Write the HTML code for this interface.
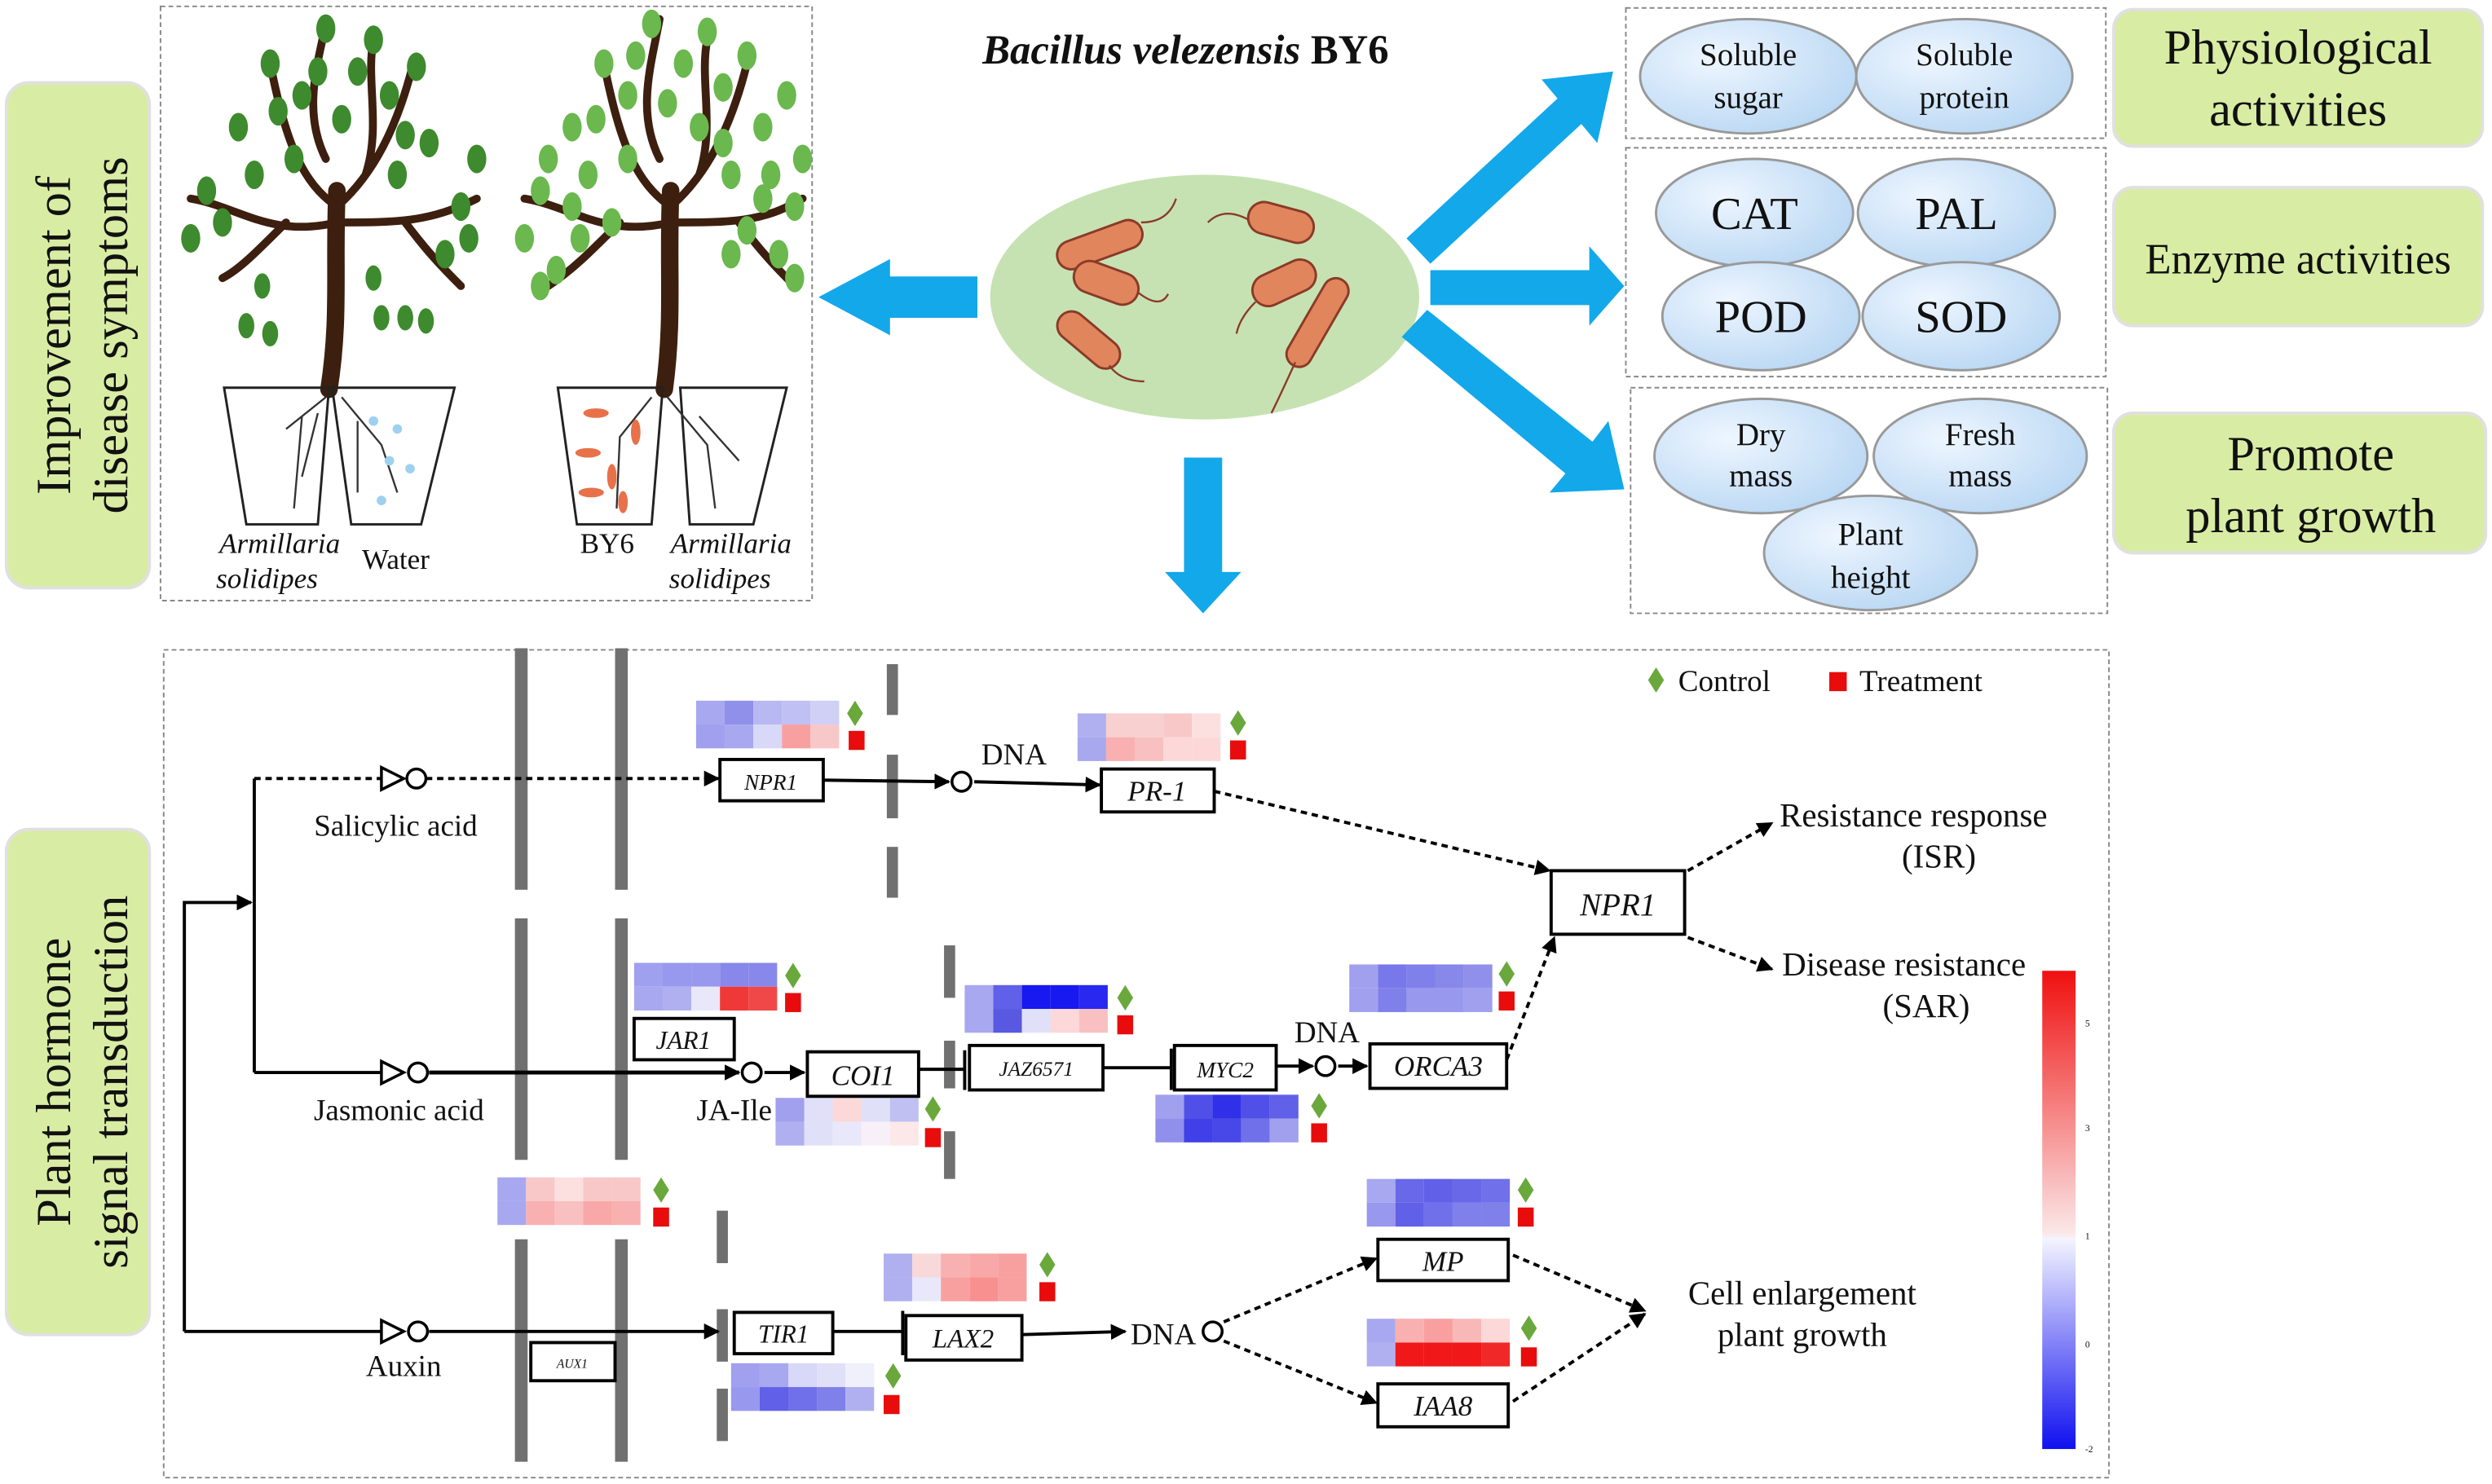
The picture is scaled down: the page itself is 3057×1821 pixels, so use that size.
<!DOCTYPE html>
<html><head><meta charset="utf-8">
<style>
html,body{margin:0;padding:0;background:#fff}
svg{display:block}
text{font-family:"Liberation Serif",serif;fill:#111}
</style></head>
<body>
<svg width="3057" height="1821" viewBox="0 0 1568 934" xmlns="http://www.w3.org/2000/svg">
<defs>
<radialGradient id="eg" cx="0.35" cy="0.35" r="0.8">
<stop offset="0" stop-color="#eef6ff"/><stop offset="1" stop-color="#b4d4f2"/></radialGradient>
<linearGradient id="cb" x1="0" y1="0" x2="0" y2="1">
<stop offset="0" stop-color="#f01010"/><stop offset="0.55" stop-color="#fbe8e8"/><stop offset="0.56" stop-color="#f4f4ff"/><stop offset="1" stop-color="#1010f0"/></linearGradient>
<marker id="ah" markerWidth="10" markerHeight="10" refX="9" refY="5" orient="auto" markerUnits="userSpaceOnUse"><path d="M0,0 L10,5 L0,10 z" fill="#000"/></marker>
<g id="dm"><path d="M0,-8 L5,0 L0,8 L-5,0z" fill="#6aa83c"/></g>
</defs>

<!-- green labels -->
<g fill="#d9eca4" stroke="#e0e0e0" stroke-width="2">
<rect x="4" y="52" width="90" height="318" rx="14"/>
<rect x="4" y="522" width="90" height="318" rx="14"/>
<rect x="1330" y="6" width="232" height="86" rx="12"/>
<rect x="1330" y="118" width="232" height="87" rx="12"/>
<rect x="1330" y="260" width="234" height="88" rx="12"/>
</g>
<text transform="translate(44,211) rotate(-90)" font-size="31" text-anchor="middle">Improvement of</text>
<text transform="translate(80,211) rotate(-90)" font-size="31" text-anchor="middle">disease symptoms</text>
<text transform="translate(44,681) rotate(-90)" font-size="31" text-anchor="middle">Plant hormone</text>
<text transform="translate(80,681) rotate(-90)" font-size="31" text-anchor="middle">signal transduction</text>
<text x="1446" y="40" font-size="31" text-anchor="middle">Physiological</text>
<text x="1446" y="79" font-size="31" text-anchor="middle">activities</text>
<text x="1446" y="172" font-size="27" text-anchor="middle">Enzyme activities</text>
<text x="1454" y="296" font-size="31" text-anchor="middle">Promote</text>
<text x="1454" y="335" font-size="31" text-anchor="middle">plant growth</text>

<!-- dashed boxes -->
<g fill="none" stroke="#888" stroke-width="1" stroke-dasharray="3,2">
<rect x="101" y="4" width="410" height="374"/>
<rect x="1023" y="5" width="302" height="82"/>
<rect x="1023" y="93" width="302" height="144"/>
<rect x="1026" y="244" width="300" height="142"/>
<rect x="103" y="409" width="1224" height="521"/>
</g>

<!-- trees -->
<g fill="none" stroke="#3d1f0f" stroke-linecap="round">
<path d="M207,245 C214,200 210,170 212,120" stroke-width="11"/>
<path d="M212,130 C190,115 180,90 170,40 M212,130 C235,110 250,80 260,40 M212,140 C170,150 150,130 120,125 M212,140 C250,140 270,140 300,125 M205,100 C190,70 200,40 205,15 M230,110 C240,80 230,50 235,25 M180,140 C160,160 150,170 140,175 M255,140 C270,160 280,170 290,180" stroke-width="5"/>
<path d="M418,245 C424,200 420,170 422,120" stroke-width="11"/>
<path d="M422,130 C400,115 390,90 380,40 M422,130 C445,110 460,80 470,40 M422,140 C380,150 360,130 330,125 M422,140 C460,140 480,140 505,125 M415,100 C400,70 410,40 415,12 M440,110 C450,80 440,50 445,25 M390,140 C370,160 360,170 345,180 M465,140 C480,160 490,170 500,180" stroke-width="5"/>
</g>
<g fill="#3e8a2e">
<ellipse cx="170" cy="40" rx="6" ry="9"/><ellipse cx="190" cy="60" rx="6" ry="9"/><ellipse cx="205" cy="18" rx="6" ry="9"/><ellipse cx="225" cy="45" rx="6" ry="9"/><ellipse cx="245" cy="60" rx="6" ry="9"/><ellipse cx="262" cy="42" rx="6" ry="9"/><ellipse cx="270" cy="90" rx="6" ry="9"/><ellipse cx="150" cy="80" rx="6" ry="9"/><ellipse cx="130" cy="120" rx="6" ry="9"/><ellipse cx="120" cy="150" rx="6" ry="9"/><ellipse cx="160" cy="110" rx="6" ry="9"/><ellipse cx="290" cy="130" rx="6" ry="9"/><ellipse cx="300" cy="100" rx="6" ry="9"/><ellipse cx="280" cy="160" rx="6" ry="9"/><ellipse cx="235" cy="25" rx="6" ry="9"/><ellipse cx="185" cy="100" rx="6" ry="9"/><ellipse cx="250" cy="110" rx="6" ry="9"/><ellipse cx="175" cy="70" rx="6" ry="9"/><ellipse cx="215" cy="75" rx="6" ry="9"/><ellipse cx="255" cy="85" rx="6" ry="9"/><ellipse cx="140" cy="140" rx="6" ry="9"/><ellipse cx="295" cy="150" rx="6" ry="9"/><ellipse cx="200" cy="45" rx="6" ry="9"/>
<ellipse cx="165" cy="180" rx="5" ry="8"/><ellipse cx="155" cy="205" rx="5" ry="8"/><ellipse cx="170" cy="210" rx="5" ry="8"/><ellipse cx="235" cy="175" rx="5" ry="8"/><ellipse cx="240" cy="200" rx="5" ry="8"/><ellipse cx="255" cy="200" rx="5" ry="8"/><ellipse cx="268" cy="202" rx="5" ry="8"/>
</g>
<g fill="#6ab84e">
<ellipse cx="380" cy="40" rx="6" ry="9"/><ellipse cx="395" cy="60" rx="6" ry="9"/><ellipse cx="410" cy="15" rx="6" ry="9"/><ellipse cx="430" cy="40" rx="6" ry="9"/><ellipse cx="455" cy="55" rx="6" ry="9"/><ellipse cx="470" cy="35" rx="6" ry="9"/><ellipse cx="480" cy="80" rx="6" ry="9"/><ellipse cx="360" cy="80" rx="6" ry="9"/><ellipse cx="340" cy="120" rx="6" ry="9"/><ellipse cx="330" cy="150" rx="6" ry="9"/><ellipse cx="350" cy="170" rx="6" ry="9"/><ellipse cx="370" cy="110" rx="6" ry="9"/><ellipse cx="500" cy="130" rx="6" ry="9"/><ellipse cx="505" cy="100" rx="6" ry="9"/><ellipse cx="490" cy="160" rx="6" ry="9"/><ellipse cx="445" cy="20" rx="6" ry="9"/><ellipse cx="395" cy="100" rx="6" ry="9"/><ellipse cx="460" cy="110" rx="6" ry="9"/><ellipse cx="385" cy="140" rx="6" ry="9"/><ellipse cx="470" cy="145" rx="6" ry="9"/><ellipse cx="440" cy="80" rx="6" ry="9"/><ellipse cx="420" cy="65" rx="6" ry="9"/><ellipse cx="365" cy="150" rx="6" ry="9"/><ellipse cx="485" cy="110" rx="6" ry="9"/><ellipse cx="400" cy="35" rx="6" ry="9"/><ellipse cx="455" cy="90" rx="6" ry="9"/><ellipse cx="375" cy="75" rx="6" ry="9"/><ellipse cx="345" cy="100" rx="6" ry="9"/><ellipse cx="495" cy="60" rx="6" ry="9"/><ellipse cx="480" cy="125" rx="6" ry="9"/><ellipse cx="340" cy="180" rx="6" ry="9"/><ellipse cx="500" cy="175" rx="6" ry="9"/><ellipse cx="360" cy="130" rx="6" ry="9"/><ellipse cx="460" cy="160" rx="6" ry="9"/>
</g>
<g fill="none" stroke="#222" stroke-width="1.5">
<path d="M141,244 L207,244 L200,330 L155,330z M209,244 L286,244 L265,330 L221,330z"/>
<path d="M351,244 L417,244 L410,330 L363,330z M428,244 L495,244 L474,330 L434,330z"/>
</g>
<g fill="none" stroke="#333" stroke-width="1.2">
<path d="M205,250 L180,270 M190,262 L185,320 M200,260 L190,300 M215,250 L240,280 L250,310 M225,265 L225,310"/>
<path d="M410,250 L390,275 L388,320 M420,250 L445,280 L450,320 M440,262 L465,290"/>
</g>
<g fill="#e8714a"><ellipse cx="375" cy="260" rx="8" ry="3"/><ellipse cx="370" cy="285" rx="8" ry="3"/><ellipse cx="385" cy="300" rx="3" ry="8"/><ellipse cx="400" cy="272" rx="3" ry="8"/><ellipse cx="372" cy="310" rx="8" ry="3"/><ellipse cx="392" cy="316" rx="3" ry="7"/></g>
<g fill="#9fd0f0"><circle cx="235" cy="265" r="3"/><circle cx="250" cy="270" r="3"/><circle cx="245" cy="290" r="3"/><circle cx="258" cy="295" r="3"/><circle cx="240" cy="315" r="3"/></g>
<text x="176" y="348" font-size="18" font-style="italic" text-anchor="middle">Armillaria</text>
<text x="168" y="370" font-size="18" font-style="italic" text-anchor="middle">solidipes</text>
<text x="249" y="358" font-size="18" text-anchor="middle">Water</text>
<text x="382" y="348" font-size="18" text-anchor="middle">BY6</text>
<text x="460" y="348" font-size="18" font-style="italic" text-anchor="middle">Armillaria</text>
<text x="453" y="370" font-size="18" font-style="italic" text-anchor="middle">solidipes</text>

<!-- title & bacteria -->
<text x="746" y="40" font-size="26" font-weight="bold" text-anchor="middle"><tspan font-style="italic">Bacillus velezensis</tspan> BY6</text>
<ellipse cx="758" cy="187" rx="135" ry="77" fill="#c6e2b2"/>
<g fill="#e0855c" stroke="#8a3a28" stroke-width="1.5">
<rect x="664" y="145" width="56" height="18" rx="9" transform="rotate(-20 692 154)"/>
<rect x="785" y="130" width="42" height="20" rx="10" transform="rotate(15 806 140)"/>
<rect x="675" y="168" width="42" height="20" rx="10" transform="rotate(20 696 178)"/>
<rect x="787" y="168" width="42" height="20" rx="10" transform="rotate(-25 808 178)"/>
<rect x="662" y="205" width="46" height="18" rx="9" transform="rotate(40 685 214)"/>
<rect x="798" y="195" width="62" height="16" rx="8" transform="rotate(-60 829 203)"/>
</g>
<g fill="none" stroke="#8a3a28" stroke-width="1.2"><path d="M718,140 Q735,140 740,125 M760,140 Q770,130 785,138 M716,184 Q730,195 735,185 M790,190 Q780,200 778,210 M698,230 Q705,240 720,240 M815,228 Q805,250 800,260"/></g>

<!-- blue arrows -->
<g fill="#12a8ea">
<path d="M615,174 L560,174 L560,163 L515,187 L560,211 L560,200 L615,200z"/>
<path d="M745,288 L769,288 L769,360 L781,360 L757,386 L733,360 L745,360z"/>
<path d="M900,170 L1000,170 L1000,155 L1022,180 L1000,205 L1000,192 L900,192z"/>
<path d="M885,150 L980,62 L970,50 L1015,45 L1005,90 L995,78 L900,166z"/>
<path d="M882,212 L985,298 L975,310 L1022,308 L1012,265 L1002,278 L898,195z"/>
</g>

<!-- ellipses -->
<g fill="url(#eg)" stroke="#999" stroke-width="1.5">
<ellipse cx="1100" cy="48" rx="68" ry="36"/><ellipse cx="1236" cy="48" rx="68" ry="36"/>
<ellipse cx="1104" cy="134" rx="62" ry="34"/><ellipse cx="1231" cy="134" rx="62" ry="34"/>
<ellipse cx="1108" cy="199" rx="62" ry="34"/><ellipse cx="1234" cy="199" rx="62" ry="34"/>
<ellipse cx="1108" cy="287" rx="67" ry="36"/><ellipse cx="1246" cy="287" rx="67" ry="36"/><ellipse cx="1177" cy="348" rx="67" ry="36"/>
</g>
<g font-size="20" text-anchor="middle">
<text x="1100" y="41">Soluble</text><text x="1100" y="68">sugar</text>
<text x="1236" y="41">Soluble</text><text x="1236" y="68">protein</text>
<text x="1108" y="280">Dry</text><text x="1108" y="306">mass</text>
<text x="1246" y="280">Fresh</text><text x="1246" y="306">mass</text>
<text x="1177" y="343">Plant</text><text x="1177" y="370">height</text>
</g>
<g font-size="29" text-anchor="middle">
<text x="1104" y="144">CAT</text><text x="1231" y="144">PAL</text>
<text x="1108" y="209">POD</text><text x="1234" y="209">SOD</text>
</g>

<!-- grey membrane bars -->
<g fill="#707070">
<rect x="324" y="408" width="8" height="152"/><rect x="324" y="578" width="8" height="152"/><rect x="324" y="780" width="8" height="140"/>
<rect x="387" y="408" width="8" height="152"/><rect x="387" y="578" width="8" height="152"/><rect x="387" y="780" width="8" height="140"/>
<rect x="558" y="418" width="7" height="32"/><rect x="558" y="475" width="7" height="40"/><rect x="558" y="533" width="7" height="32"/>
<rect x="594" y="595" width="7" height="33"/><rect x="594" y="655" width="7" height="30"/><rect x="594" y="712" width="7" height="30"/>
<rect x="451" y="762" width="7" height="33"/><rect x="451" y="824" width="7" height="33"/><rect x="451" y="874" width="7" height="33"/>
</g>

<!-- legend -->
<use href="#dm" x="1042" y="428"/><text x="1056" y="435" font-size="19">Control</text>
<rect x="1151" y="423" width="11" height="12" fill="#e80c0c"/><text x="1170" y="435" font-size="19">Treatment</text>

<!-- heatmaps -->
<g transform="translate(438,441)">
<rect x="0" y="0" width="18" height="15" fill="#a8a8f0"/><rect x="18" y="0" width="18" height="15" fill="#9090ea"/><rect x="36" y="0" width="18" height="15" fill="#b8b8f2"/><rect x="54" y="0" width="18" height="15" fill="#c0c0f4"/><rect x="72" y="0" width="18" height="15" fill="#d0d0f6"/>
<rect x="0" y="15" width="18" height="15" fill="#a0a0ee"/><rect x="18" y="15" width="18" height="15" fill="#a8a8f0"/><rect x="36" y="15" width="18" height="15" fill="#d8d8f8"/><rect x="54" y="15" width="18" height="15" fill="#f8a0a0"/><rect x="72" y="15" width="18" height="15" fill="#f8c8c8"/>
<use href="#dm" x="100" y="8"/><rect x="96" y="19" width="10" height="12" fill="#e80c0c"/></g>
<g transform="translate(678,449)">
<rect x="0" y="0" width="18" height="15" fill="#b0b0f0"/><rect x="18" y="0" width="18" height="15" fill="#f8d0d0"/><rect x="36" y="0" width="18" height="15" fill="#f8d0d0"/><rect x="54" y="0" width="18" height="15" fill="#f8c8c8"/><rect x="72" y="0" width="18" height="15" fill="#fce0e0"/>
<rect x="0" y="15" width="18" height="15" fill="#a8a8ee"/><rect x="18" y="15" width="18" height="15" fill="#f8b0b0"/><rect x="36" y="15" width="18" height="15" fill="#f8c0c0"/><rect x="54" y="15" width="18" height="15" fill="#fcd8d8"/><rect x="72" y="15" width="18" height="15" fill="#fcd8d8"/>
<use href="#dm" x="101" y="6"/><rect x="96" y="17" width="10" height="12" fill="#e80c0c"/></g>
<g transform="translate(399,606)">
<rect x="0" y="0" width="18" height="15" fill="#a0a0f0"/><rect x="18" y="0" width="18" height="15" fill="#9898ee"/><rect x="36" y="0" width="18" height="15" fill="#9898ee"/><rect x="54" y="0" width="18" height="15" fill="#8888ea"/><rect x="72" y="0" width="18" height="15" fill="#8888ea"/>
<rect x="0" y="15" width="18" height="15" fill="#a8a8f0"/><rect x="18" y="15" width="18" height="15" fill="#b0b0f0"/><rect x="36" y="15" width="18" height="15" fill="#e8e8fa"/><rect x="54" y="15" width="18" height="15" fill="#f03838"/><rect x="72" y="15" width="18" height="15" fill="#f04848"/>
<use href="#dm" x="100" y="8"/><rect x="95" y="19" width="10" height="12" fill="#e80c0c"/></g>
<g transform="translate(607,620)">
<rect x="0" y="0" width="18" height="15" fill="#a8a8f0"/><rect x="18" y="0" width="18" height="15" fill="#6060e8"/><rect x="36" y="0" width="18" height="15" fill="#1818f0"/><rect x="54" y="0" width="18" height="15" fill="#1818f0"/><rect x="72" y="0" width="18" height="15" fill="#2828f0"/>
<rect x="0" y="15" width="18" height="15" fill="#a8a8f0"/><rect x="18" y="15" width="18" height="15" fill="#5858e0"/><rect x="36" y="15" width="18" height="15" fill="#e0e0f8"/><rect x="54" y="15" width="18" height="15" fill="#fcd8d8"/><rect x="72" y="15" width="18" height="15" fill="#f8c0c0"/>
<use href="#dm" x="101" y="8"/><rect x="96" y="19" width="10" height="12" fill="#e80c0c"/></g>
<g transform="translate(488,691)">
<rect x="0" y="0" width="18" height="15" fill="#a0a0ee"/><rect x="18" y="0" width="18" height="15" fill="#e0e0f8"/><rect x="36" y="0" width="18" height="15" fill="#fcd8d8"/><rect x="54" y="0" width="18" height="15" fill="#e0e0f8"/><rect x="72" y="0" width="18" height="15" fill="#c0c0f2"/>
<rect x="0" y="15" width="18" height="15" fill="#b0b0f0"/><rect x="18" y="15" width="18" height="15" fill="#e0e0f8"/><rect x="36" y="15" width="18" height="15" fill="#e8e8fa"/><rect x="54" y="15" width="18" height="15" fill="#f8f0f8"/><rect x="72" y="15" width="18" height="15" fill="#fce8e8"/>
<use href="#dm" x="99" y="7"/><rect x="94" y="19" width="10" height="12" fill="#e80c0c"/></g>
<g transform="translate(727,689)">
<rect x="0" y="0" width="18" height="15" fill="#a0a0ee"/><rect x="18" y="0" width="18" height="15" fill="#5050e8"/><rect x="36" y="0" width="18" height="15" fill="#3030e8"/><rect x="54" y="0" width="18" height="15" fill="#5050e8"/><rect x="72" y="0" width="18" height="15" fill="#6060e8"/>
<rect x="0" y="15" width="18" height="15" fill="#9090ec"/><rect x="18" y="15" width="18" height="15" fill="#4040e8"/><rect x="36" y="15" width="18" height="15" fill="#4848e8"/><rect x="54" y="15" width="18" height="15" fill="#7070ea"/><rect x="72" y="15" width="18" height="15" fill="#a0a0ee"/>
<use href="#dm" x="103" y="7"/><rect x="98" y="18" width="10" height="12" fill="#e80c0c"/></g>
<g transform="translate(849,607)">
<rect x="0" y="0" width="18" height="15" fill="#a0a0ee"/><rect x="18" y="0" width="18" height="15" fill="#7878ea"/><rect x="36" y="0" width="18" height="15" fill="#8080ea"/><rect x="54" y="0" width="18" height="15" fill="#8888ea"/><rect x="72" y="0" width="18" height="15" fill="#9090ec"/>
<rect x="0" y="15" width="18" height="15" fill="#a0a0ee"/><rect x="18" y="15" width="18" height="15" fill="#8080ea"/><rect x="36" y="15" width="18" height="15" fill="#9898ee"/><rect x="54" y="15" width="18" height="15" fill="#9898ee"/><rect x="72" y="15" width="18" height="15" fill="#a0a0ee"/>
<use href="#dm" x="99" y="6"/><rect x="94" y="17" width="10" height="12" fill="#e80c0c"/></g>
<g transform="translate(313,741)">
<rect x="0" y="0" width="18" height="15" fill="#a8a8f0"/><rect x="18" y="0" width="18" height="15" fill="#f8c8c8"/><rect x="36" y="0" width="18" height="15" fill="#fce0e0"/><rect x="54" y="0" width="18" height="15" fill="#f8c8c8"/><rect x="72" y="0" width="18" height="15" fill="#f8c8c8"/>
<rect x="0" y="15" width="18" height="15" fill="#a8a8f0"/><rect x="18" y="15" width="18" height="15" fill="#f8b0b0"/><rect x="36" y="15" width="18" height="15" fill="#f8c0c0"/><rect x="54" y="15" width="18" height="15" fill="#f8a8a8"/><rect x="72" y="15" width="18" height="15" fill="#f8b0b0"/>
<use href="#dm" x="103" y="8"/><rect x="98" y="19" width="10" height="12" fill="#e80c0c"/></g>
<g transform="translate(556,789)">
<rect x="0" y="0" width="18" height="15" fill="#b0b0f0"/><rect x="18" y="0" width="18" height="15" fill="#f8d8d8"/><rect x="36" y="0" width="18" height="15" fill="#f8b0b0"/><rect x="54" y="0" width="18" height="15" fill="#f8a8a8"/><rect x="72" y="0" width="18" height="15" fill="#f8a0a0"/>
<rect x="0" y="15" width="18" height="15" fill="#b0b0f0"/><rect x="18" y="15" width="18" height="15" fill="#e8e8fa"/><rect x="36" y="15" width="18" height="15" fill="#f8a0a0"/><rect x="54" y="15" width="18" height="15" fill="#f89090"/><rect x="72" y="15" width="18" height="15" fill="#f8a0a0"/>
<use href="#dm" x="103" y="7"/><rect x="98" y="18" width="10" height="12" fill="#e80c0c"/></g>
<g transform="translate(460,858)">
<rect x="0" y="0" width="18" height="15" fill="#a0a0ee"/><rect x="18" y="0" width="18" height="15" fill="#a8a8f0"/><rect x="36" y="0" width="18" height="15" fill="#d8d8f8"/><rect x="54" y="0" width="18" height="15" fill="#e0e0f8"/><rect x="72" y="0" width="18" height="15" fill="#f0f0fc"/>
<rect x="0" y="15" width="18" height="15" fill="#9898ee"/><rect x="18" y="15" width="18" height="15" fill="#6060e8"/><rect x="36" y="15" width="18" height="15" fill="#7070ea"/><rect x="54" y="15" width="18" height="15" fill="#8080ea"/><rect x="72" y="15" width="18" height="15" fill="#b0b0f0"/>
<use href="#dm" x="102" y="8"/><rect x="96" y="20" width="10" height="12" fill="#e80c0c"/></g>
<g transform="translate(860,742)">
<rect x="0" y="0" width="18" height="15" fill="#a8a8f0"/><rect x="18" y="0" width="18" height="15" fill="#6868e8"/><rect x="36" y="0" width="18" height="15" fill="#6060e8"/><rect x="54" y="0" width="18" height="15" fill="#6868e8"/><rect x="72" y="0" width="18" height="15" fill="#7070ea"/>
<rect x="0" y="15" width="18" height="15" fill="#9898ee"/><rect x="18" y="15" width="18" height="15" fill="#6060e8"/><rect x="36" y="15" width="18" height="15" fill="#7070ea"/><rect x="54" y="15" width="18" height="15" fill="#8080ea"/><rect x="72" y="15" width="18" height="15" fill="#8080ea"/>
<use href="#dm" x="100" y="7"/><rect x="95" y="18" width="10" height="12" fill="#e80c0c"/></g>
<g transform="translate(860,830)">
<rect x="0" y="0" width="18" height="15" fill="#a8a8f0"/><rect x="18" y="0" width="18" height="15" fill="#f8b0b0"/><rect x="36" y="0" width="18" height="15" fill="#f8a0a0"/><rect x="54" y="0" width="18" height="15" fill="#f8b8b8"/><rect x="72" y="0" width="18" height="15" fill="#fcd8d8"/>
<rect x="0" y="15" width="18" height="15" fill="#b0b0f0"/><rect x="18" y="15" width="18" height="15" fill="#f01818"/><rect x="36" y="15" width="18" height="15" fill="#f01818"/><rect x="54" y="15" width="18" height="15" fill="#f01818"/><rect x="72" y="15" width="18" height="15" fill="#f02828"/>
<use href="#dm" x="102" y="6"/><rect x="97" y="18" width="10" height="12" fill="#e80c0c"/></g>

<!-- colorbar -->
<rect x="1285" y="611" width="21" height="301" fill="url(#cb)"/>
<g font-size="6" fill="#333"><text x="1312" y="646">5</text><text x="1312" y="712">3</text><text x="1312" y="780">1</text><text x="1312" y="848">0</text><text x="1312" y="914">-2</text></g>

<!-- pathway lines -->
<g fill="none" stroke="#000" stroke-width="2">
<path d="M116,838 L116,568 L158,568" marker-end="url(#ah)"/>
<path d="M160,490 L160,675"/>
<path d="M160,490 L240,490" stroke-dasharray="4,3"/>
<path d="M268,490 L452,490" stroke-dasharray="4,3" marker-end="url(#ah)"/>
<path d="M160,675 L240,675"/>
<path d="M270,675 L465,675" stroke-width="2.5" marker-end="url(#ah)"/>
<path d="M481,675 L506,675" marker-end="url(#ah)"/>
<path d="M116,838 L240,838"/>
<path d="M270,838 L452,838" marker-end="url(#ah)"/>
<path d="M518,491 L597,492" marker-end="url(#ah)"/>
<path d="M613,492 L692,494" marker-end="url(#ah)"/>
<path d="M764,498 L975,548" stroke-dasharray="4,3" marker-end="url(#ah)"/>
<path d="M948,667 L978,590" stroke-dasharray="4,3" marker-end="url(#ah)"/>
<path d="M1062,548 L1115,518" stroke-dasharray="4,3" marker-end="url(#ah)"/>
<path d="M1062,590 L1115,610" stroke-dasharray="4,3" marker-end="url(#ah)"/>
<path d="M578,673 L607,673 M607,661 L607,686"/>
<path d="M694,672 L737,672 M737,660 L737,686"/>
<path d="M803,671 L826,671" marker-end="url(#ah)"/>
<path d="M842,671 L860,671" marker-end="url(#ah)"/>
<path d="M524,838 L568,838 M568,825 L568,853"/>
<path d="M643,840 L708,838" marker-end="url(#ah)"/>
<path d="M770,832 L866,792" stroke-dasharray="4,3" marker-end="url(#ah)"/>
<path d="M770,844 L866,883" stroke-dasharray="4,3" marker-end="url(#ah)"/>
<path d="M952,790 L1035,825" stroke-dasharray="4,3" marker-end="url(#ah)"/>
<path d="M952,882 L1035,827" stroke-dasharray="4,3" marker-end="url(#ah)"/>
</g>
<g fill="#fff" stroke="#000" stroke-width="1.8">
<path d="M240,483 L254,490 L240,497z"/><circle cx="262" cy="490" r="6"/>
<path d="M240,668 L254,675 L240,682z"/><circle cx="263" cy="675" r="6"/>
<path d="M240,831 L254,838 L240,845z"/><circle cx="263" cy="838" r="6"/>
<circle cx="473" cy="675" r="6"/><circle cx="605" cy="492" r="6"/><circle cx="834" cy="671" r="6"/><circle cx="763" cy="838" r="6"/>
</g>
<!-- boxes -->
<g fill="#fff" stroke="#000" stroke-width="2">
<rect x="453" y="478" width="65" height="26"/>
<rect x="693" y="484" width="71" height="27"/>
<rect x="976" y="548" width="84" height="40"/>
<rect x="399" y="641" width="63" height="26"/>
<rect x="508" y="662" width="70" height="28"/>
<rect x="610" y="658" width="84" height="28"/>
<rect x="739" y="658" width="64" height="28"/>
<rect x="862" y="657" width="86" height="28"/>
<rect x="334" y="845" width="53" height="24"/>
<rect x="462" y="826" width="62" height="26"/>
<rect x="570" y="828" width="73" height="28"/>
<rect x="867" y="780" width="82" height="26"/>
<rect x="867" y="871" width="82" height="27"/>
</g>
<g font-style="italic" text-anchor="middle">
<text x="485" y="497" font-size="14">NPR1</text>
<text x="728" y="504" font-size="18">PR-1</text>
<text x="1018" y="576" font-size="20">NPR1</text>
<text x="430" y="660" font-size="16">JAR1</text>
<text x="543" y="683" font-size="18">COI1</text>
<text x="652" y="677" font-size="13">JAZ6571</text>
<text x="771" y="678" font-size="14">MYC2</text>
<text x="905" y="677" font-size="18">ORCA3</text>
<text x="360" y="861" font-size="8">AUX1</text>
<text x="493" y="845" font-size="16">TIR1</text>
<text x="606" y="848" font-size="17">LAX2</text>
<text x="908" y="800" font-size="18">MP</text>
<text x="908" y="891" font-size="18">IAA8</text>
</g>
<g font-size="19" text-anchor="middle">
<text x="249" y="526">Salicylic acid</text>
<text x="251" y="705">Jasmonic acid</text>
<text x="254" y="866">Auxin</text>
<text x="462" y="705">JA-Ile</text>
<text x="638" y="481">DNA</text>
<text x="835" y="656">DNA</text>
<text x="732" y="846">DNA</text>
</g>
<g font-size="21" text-anchor="middle">
<text x="1204" y="520">Resistance response</text>
<text x="1220" y="546">(ISR)</text>
<text x="1198" y="614">Disease resistance</text>
<text x="1212" y="640">(SAR)</text>
<text x="1134" y="821">Cell enlargement</text>
<text x="1134" y="847">plant growth</text>
</g>
</svg>
</body></html>
